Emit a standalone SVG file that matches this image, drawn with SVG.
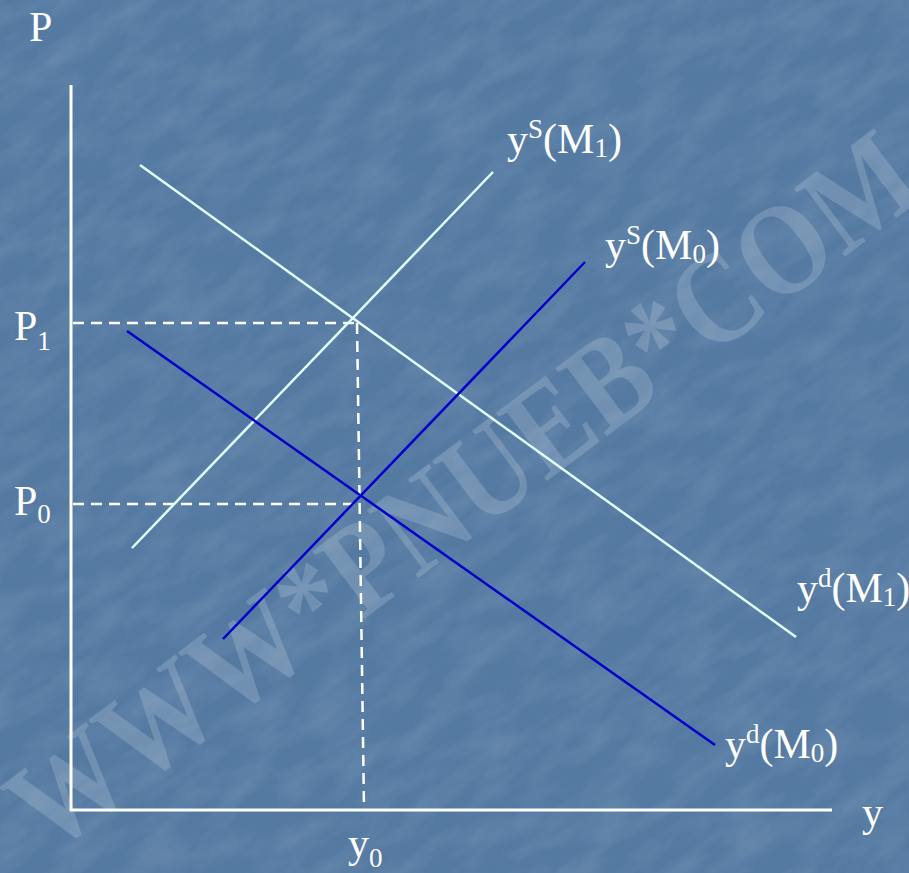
<svg xmlns="http://www.w3.org/2000/svg" width="909" height="873" viewBox="0 0 909 873">
<defs>
<filter id="tex" x="-400" y="-400" width="1700" height="1700" filterUnits="userSpaceOnUse">
<feTurbulence type="fractalNoise" baseFrequency="0.018 0.045" numOctaves="4" seed="7" result="n"/>
<feColorMatrix in="n" type="matrix" values="0 0 0 0 1  0 0 0 0 1  0 0 0 0 1  0.6 0 0 0 -0.22"/>
</filter>
</defs>
<style>
.lbl{font-family:"Liberation Serif","Times New Roman",serif;font-size:42px;fill:#ffffff}
.sm{font-size:27px}
.axis{stroke:#ffffff;stroke-width:3;fill:none}
.dash{stroke:#ffffff;stroke-width:2.5;stroke-dasharray:11 7;fill:none}
.light{stroke:#e2ffff;stroke-width:2.5;fill:none}
.dark{stroke:#0000cc;stroke-width:2.5;fill:none}
.wm{font-family:"Liberation Serif","Times New Roman",serif;font-weight:bold;font-size:130px;fill:#ffffff;fill-opacity:0.17}
</style>
<rect id="background" x="0" y="0" width="909" height="873" fill="#557aa2"/>
<g transform="rotate(-35 455 436)">
<rect x="-400" y="-400" width="1700" height="1700" fill="#ffffff" filter="url(#tex)" opacity="0.3"/>
</g>
<text class="wm" x="0" y="0" text-anchor="middle" textLength="1100" lengthAdjust="spacingAndGlyphs" transform="translate(462 490) rotate(-37) translate(0 44)">WWW*PNUEB*COM</text>
<g id="connectors">
<g id="guides">
<line class="dash" x1="73" y1="323" x2="357" y2="323"/>
<line class="dash" x1="73" y1="504" x2="360" y2="504"/>
<line class="dash" x1="357" y1="323" x2="364" y2="808"/>
</g>
<g id="curves">
<line id="yd-M1" class="light" x1="140" y1="165" x2="796" y2="637"/>
<line id="ys-M1" class="light" x1="132" y1="548" x2="493" y2="172"/>
<line id="ys-M0" class="dark" x1="223" y1="639" x2="585" y2="262"/>
<line id="yd-M0" class="dark" x1="127" y1="331" x2="715" y2="745"/>
</g>
<g id="axes">
<line class="axis" x1="71" y1="85" x2="71" y2="811"/>
<line class="axis" x1="70" y1="810" x2="832" y2="810"/>
</g>
</g>
<g id="label-P"><text class="lbl" x="29" y="41">P</text></g>
<g id="label-P1"><text class="lbl" x="14" y="340">P<tspan class="sm" dy="10">1</tspan></text></g>
<g id="label-P0"><text class="lbl" x="14" y="515">P<tspan class="sm" dy="8">0</tspan></text></g>
<g id="label-y"><text class="lbl" x="862" y="826">y</text></g>
<g id="label-y0"><text class="lbl" x="348" y="857">y<tspan class="sm" dy="10">0</tspan></text></g>
<g id="label-ysM1"><text class="lbl" x="507" y="153">y<tspan class="sm" dy="-15">S</tspan><tspan dy="15">(M</tspan><tspan class="sm" dy="4">1</tspan><tspan dy="-4">)</tspan></text></g>
<g id="label-ysM0"><text class="lbl" x="605" y="259">y<tspan class="sm" dy="-15">S</tspan><tspan dy="15">(M</tspan><tspan class="sm" dy="4">0</tspan><tspan dy="-4">)</tspan></text></g>
<g id="label-ydM1"><text class="lbl" x="797" y="602">y<tspan class="sm" dy="-15">d</tspan><tspan dy="15">(M</tspan><tspan class="sm" dy="4">1</tspan><tspan dy="-4">)</tspan></text></g>
<g id="label-ydM0"><text class="lbl" x="725" y="758">y<tspan class="sm" dy="-15">d</tspan><tspan dy="15">(M</tspan><tspan class="sm" dy="4">0</tspan><tspan dy="-4">)</tspan></text></g>
</svg>
